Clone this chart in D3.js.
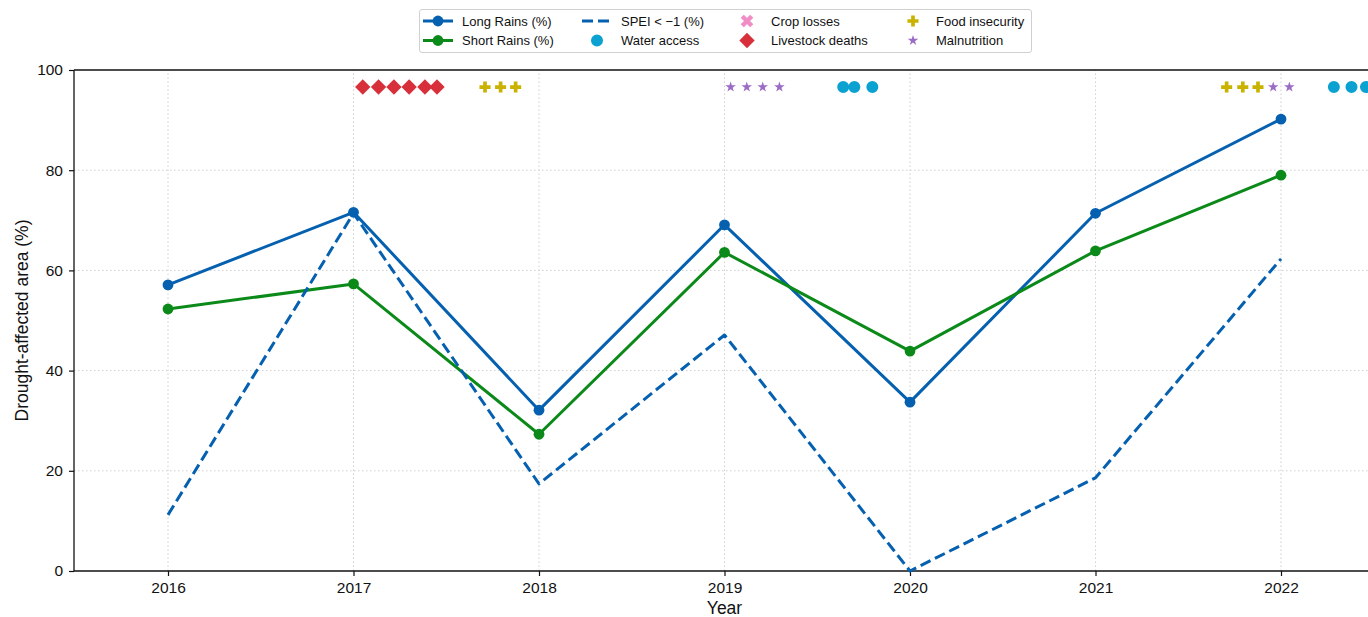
<!DOCTYPE html>
<html>
<head>
<meta charset="utf-8">
<script src="https://cdn.jsdelivr.net/npm/d3@7"></script>
<style>
  body { margin: 0; background: #fff; }
  svg { font-family: "Liberation Sans", Arial, sans-serif; }
</style>
</head>
<body>
<svg id="chart" width="1368" height="617"></svg>
<script>
// data
const years = [2016, 2017, 2018, 2019, 2020, 2021, 2022];
const longRains = [57.1, 71.6, 32.1, 69.1, 33.7, 71.4, 90.2];
const shortRains = [52.3, 57.3, 27.3, 63.6, 43.9, 63.9, 79.0];
const spei = [11.2, 71.4, 17.4, 47.1, 0.0, 18.6, 62.3];
const yTicks = [0, 20, 40, 60, 80, 100];

// impact events (decimal year)
const eventLevel = 96.6;
const livestockDeaths = [2017.05, 2017.135, 2017.218, 2017.3, 2017.385, 2017.45];
const foodInsecurity = [2017.709, 2017.793, 2017.874, 2021.707, 2021.794, 2021.876];
const malnutrition = [2019.033, 2019.12, 2019.206, 2019.296, 2021.958, 2022.045];
const waterAccess = [2019.64, 2019.7, 2019.797, 2022.285, 2022.38, 2022.458];
const cropLosses = [];

const blue = "#0560b0";
const green = "#0b8a1a";
const colors = {
    water: "#0ba2d2",
    crop: "#f08cc6",
    livestock: "#d8303a",
    food: "#c9b200",
    maln: "#9a6cc6"
};

const plotTop = 70, plotBottom = 571, plotLeft = 74;
const height = 617;

const svg = d3.select("#chart");

// x: 2016 -> 168px, 2022 -> 1281px
const x = d3.scaleLinear()
    .domain([2016, 2022])
    .range([168, 1281]);
const xLo = x.invert(plotLeft), xHi = 2022.6;
const plotRight = x(xHi);
const y = d3.scaleLinear()
    .domain([0, 100])
    .range([plotBottom, plotTop]);

// grid
const grid = svg.append("g").attr("stroke", "#cfcfcf").attr("stroke-width", 1).attr("stroke-dasharray", "1.5,2.5");
grid.selectAll(".gx").data(years).join("line")
    .attr("x1", d => x(d)).attr("x2", d => x(d))
    .attr("y1", y(0)).attr("y2", y(100));
grid.selectAll(".gy").data(yTicks.slice(1, -1)).join("line")
    .attr("x1", plotLeft).attr("x2", plotRight)
    .attr("y1", d => y(d)).attr("y2", d => y(d));

// axes
const xAxis = svg.append("g")
    .attr("transform", `translate(0, ${y(0)})`)
    .call(d3.axisBottom(x).tickValues(years).tickFormat(d3.format("d")).tickSize(5).tickPadding(6));
const yAxis = svg.append("g")
    .attr("transform", `translate(${plotLeft}, 0)`)
    .call(d3.axisLeft(y).tickValues(yTicks).tickSize(5).tickPadding(6));
[xAxis, yAxis].forEach(g => {
    g.selectAll("text").attr("font-size", 15.5).attr("fill", "#111").attr("font-family", "Liberation Sans, Arial, sans-serif");
    g.selectAll("line").attr("stroke", "#111").attr("stroke-width", 1.2);
    g.select(".domain").remove();
});

// spines
const spine = (x1, y1, x2, y2) => svg.append("line")
    .attr("x1", x1).attr("y1", y1).attr("x2", x2).attr("y2", y2)
    .attr("stroke", "#111").attr("stroke-width", 1.3);
spine(plotLeft, y(0), plotRight, y(0));
spine(plotLeft, y(100), plotRight, y(100));
spine(plotLeft, y(0), plotLeft, y(100));

// axis labels
svg.append("text")
    .attr("x", (x(2016) + x(2022)) / 2)
    .attr("y", 614)
    .attr("text-anchor", "middle")
    .attr("font-size", 17.5)
    .attr("fill", "#111")
    .text("Year");
svg.append("text")
    .attr("transform", `translate(28, ${(y(0) + y(100)) / 2}) rotate(-90)`)
    .attr("text-anchor", "middle")
    .attr("font-size", 17.5)
    .attr("fill", "#111")
    .text("Drought-affected area (%)");

// lines
const line = d3.line().x(d => x(d[0])).y(d => y(d[1]));
const drawSeries = (vals, color, dashed, markers) => {
    const pts = years.map((yr, i) => [yr, vals[i]]);
    svg.append("path")
        .datum(pts)
        .attr("d", line)
        .attr("fill", "none")
        .attr("stroke", color)
        .attr("stroke-width", 3)
        .attr("stroke-linejoin", "round")
        .attr("stroke-dasharray", dashed ? "11,5" : null);
    if (markers) {
        svg.append("g").selectAll("circle")
            .data(pts)
            .join("circle")
            .attr("cx", d => x(d[0]))
            .attr("cy", d => y(d[1]))
            .attr("r", 5.4)
            .attr("fill", color);
    }
};
drawSeries(longRains, blue, false, true);
drawSeries(shortRains, green, false, true);
drawSeries(spei, blue, true, false);

// event markers
const sym = {
    water: d3.symbol().type(d3.symbolCircle).size(113),
    crop: d3.symbol().type(d3.symbolX).size(60),
    livestock: d3.symbol().type(d3.symbolSquare).size(118),
    food: d3.symbol().type(d3.symbolCross).size(68),
    maln: d3.symbol().type(d3.symbolStar).size(34)
};
const markerAttrs = (sel, key) => sel
    .attr("d", sym[key])
    .attr("fill", colors[key])
    .attr("stroke", key === "crop" ? colors[key] : "none")
    .attr("stroke-width", key === "crop" ? 4.5 : 0);
const drawEvents = (dates, key) => {
    svg.append("g").selectAll("path")
        .data(dates)
        .join("path")
        .call(markerAttrs, key)
        .attr("transform", d => `translate(${x(d)}, ${y(eventLevel)})` + (key === "livestock" ? " rotate(45)" : ""));
};
drawEvents(cropLosses, "crop");
drawEvents(livestockDeaths, "livestock");
drawEvents(foodInsecurity, "food");
drawEvents(malnutrition, "maln");
drawEvents(waterAccess, "water");

// legend
const lg = svg.append("g").attr("font-size", 13).attr("fill", "#111");
lg.append("rect")
    .attr("x", 419.5).attr("y", 9.5).attr("width", 612).attr("height", 43)
    .attr("rx", 2.5).attr("fill", "#fff").attr("stroke", "#d0d0d0");
const row1 = 21, row2 = 40.5;
const legendLine = (x0, yy, color, dashed, marker) => {
    lg.append("line").attr("x1", x0).attr("x2", x0 + 30).attr("y1", yy).attr("y2", yy)
        .attr("stroke", color).attr("stroke-width", 3)
        .attr("stroke-dasharray", dashed ? "11,5" : null);
    if (marker) lg.append("circle").attr("cx", x0 + 15).attr("cy", yy).attr("r", 5.4).attr("fill", color);
};
const legendText = (x0, yy, t) => {
    lg.append("text").attr("x", x0).attr("y", yy).attr("dy", "0.36em").text(t);
};
const legendSym = (cx, yy, key) => {
    lg.append("path")
        .call(markerAttrs, key)
        .attr("transform", `translate(${cx}, ${yy})` + (key === "livestock" ? " rotate(45)" : ""));
};
legendLine(423, row1, blue, false, true);
legendText(462, row1, "Long Rains (%)");
legendLine(423, row2, green, false, true);
legendText(462, row2, "Short Rains (%)");
legendLine(582, row1, blue, true, false);
legendText(621, row1, "SPEI < \u22121 (%)");
legendSym(597, row2, "water");
legendText(621, row2, "Water access");
legendSym(747, row1, "crop");
legendText(771, row1, "Crop losses");
legendSym(747, row2, "livestock");
legendText(771, row2, "Livestock deaths");
legendSym(913, row1, "food");
legendText(936, row1, "Food insecurity");
legendSym(913, row2, "maln");
legendText(936, row2, "Malnutrition");
</script>
</body>
</html>
